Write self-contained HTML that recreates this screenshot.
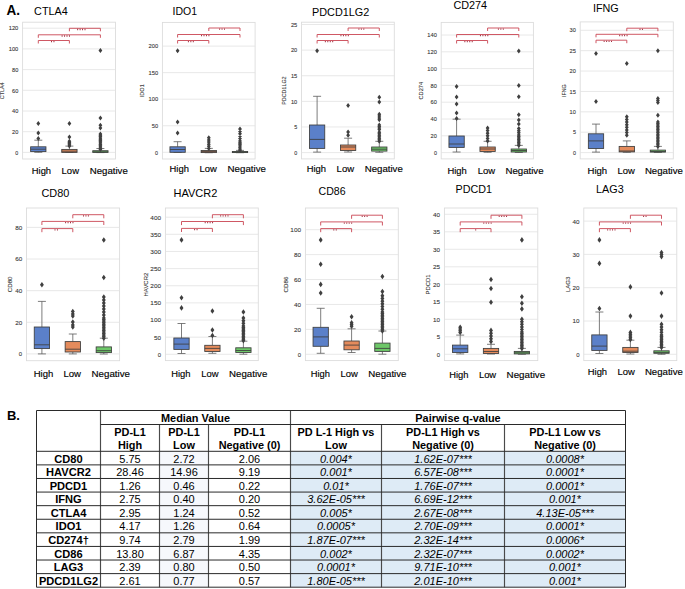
<!DOCTYPE html>
<html><head><meta charset="utf-8"><title>Figure</title>
<style>
html,body{margin:0;padding:0;background:#fff;}
body{width:685px;height:589px;overflow:hidden;}
svg{display:block;font-family:"Liberation Sans", sans-serif;}
</style></head><body>
<svg width="685" height="589" viewBox="0 0 685 589">
<rect width="685" height="589" fill="#fff"/>
<rect x="22.6" y="22.2" width="92.9" height="136.8" fill="#fff" stroke="#dcdcdc" stroke-width="0.9"/>
<line x1="22.6" y1="152.4" x2="115.5" y2="152.4" stroke="#e2e2e2" stroke-width="0.8"/>
<text x="18.3" y="154.6" font-size="5.3" text-anchor="end" fill="#333333" textLength="3" lengthAdjust="spacingAndGlyphs" stroke="#444" stroke-width="0.1">0</text>
<line x1="22.6" y1="131.7" x2="115.5" y2="131.7" stroke="#e2e2e2" stroke-width="0.8"/>
<text x="18.3" y="133.9" font-size="5.3" text-anchor="end" fill="#333333" textLength="6.3" lengthAdjust="spacingAndGlyphs" stroke="#444" stroke-width="0.1">20</text>
<line x1="22.6" y1="111" x2="115.5" y2="111" stroke="#e2e2e2" stroke-width="0.8"/>
<text x="18.3" y="113.2" font-size="5.3" text-anchor="end" fill="#333333" textLength="6.3" lengthAdjust="spacingAndGlyphs" stroke="#444" stroke-width="0.1">40</text>
<line x1="22.6" y1="90.3" x2="115.5" y2="90.3" stroke="#e2e2e2" stroke-width="0.8"/>
<text x="18.3" y="92.5" font-size="5.3" text-anchor="end" fill="#333333" textLength="6.3" lengthAdjust="spacingAndGlyphs" stroke="#444" stroke-width="0.1">60</text>
<line x1="22.6" y1="69.6" x2="115.5" y2="69.6" stroke="#e2e2e2" stroke-width="0.8"/>
<text x="18.3" y="71.8" font-size="5.3" text-anchor="end" fill="#333333" textLength="6.3" lengthAdjust="spacingAndGlyphs" stroke="#444" stroke-width="0.1">80</text>
<line x1="22.6" y1="48.9" x2="115.5" y2="48.9" stroke="#e2e2e2" stroke-width="0.8"/>
<text x="18.3" y="51.1" font-size="5.3" text-anchor="end" fill="#333333" textLength="9.61" lengthAdjust="spacingAndGlyphs" stroke="#444" stroke-width="0.1">100</text>
<line x1="22.6" y1="28.2" x2="115.5" y2="28.2" stroke="#e2e2e2" stroke-width="0.8"/>
<text x="18.3" y="30.4" font-size="5.3" text-anchor="end" fill="#333333" textLength="9.61" lengthAdjust="spacingAndGlyphs" stroke="#444" stroke-width="0.1">120</text>
<text x="0" y="0" font-size="5.3" fill="#333333" text-anchor="middle" stroke="#444" stroke-width="0.1" transform="translate(2.4 90.8) rotate(-90)" dy="1.9" textLength="16.69" lengthAdjust="spacingAndGlyphs">CTLA4</text>
<path d="M38.3 140.2V146.8 M38.3 151.6V152.3 M34.3 140.2H42.3 M34.3 152.3H42.3" stroke="#5c5c5c" stroke-width="0.8" fill="none"/>
<rect x="30.65" y="146.8" width="15.3" height="4.8" fill="#5b80c9" stroke="#3d3d3d" stroke-width="0.85"/>
<line x1="30.65" y1="149.2" x2="45.95" y2="149.2" stroke="#3d3d3d" stroke-width="0.85"/>
<path d="M38.3 135.9L40.2 138.4L38.3 140.9L36.4 138.4ZM38.3 130.6L40.2 133.1L38.3 135.6L36.4 133.1ZM38.3 120.9L40.2 123.4L38.3 125.9L36.4 123.4Z" fill="#404040"/>
<path d="M69.4 146.1V149.4 M69.4 152.4V152.5 M65.4 146.1H73.4 M65.4 152.5H73.4" stroke="#5c5c5c" stroke-width="0.8" fill="none"/>
<rect x="61.75" y="149.4" width="15.3" height="3" fill="#e48b5c" stroke="#3d3d3d" stroke-width="0.85"/>
<line x1="61.75" y1="151.2" x2="77.05" y2="151.2" stroke="#3d3d3d" stroke-width="0.85"/>
<path d="M69.4 120.9L71.3 123.4L69.4 125.9L67.5 123.4ZM69.4 134.6L71.3 137.1L69.4 139.6L67.5 137.1ZM69.4 138.8L71.3 141.3L69.4 143.8L67.5 141.3ZM69.4 139.95L71.3 142.45L69.4 144.95L67.5 142.45ZM69.4 141.1L71.3 143.6L69.4 146.1L67.5 143.6ZM69.4 142.25L71.3 144.75L69.4 147.25L67.5 144.75ZM69.4 143.4L71.3 145.9L69.4 148.4L67.5 145.9Z" fill="#404040"/>
<path d="M100.4 148.5V150.7 M100.4 152.4V152.6 M96.4 148.5H104.4 M96.4 152.6H104.4" stroke="#5c5c5c" stroke-width="0.8" fill="none"/>
<rect x="92.75" y="150.7" width="15.3" height="1.7" fill="#6dc768" stroke="#3d3d3d" stroke-width="0.85"/>
<line x1="92.75" y1="151.8" x2="108.05" y2="151.8" stroke="#3d3d3d" stroke-width="0.85"/>
<path d="M100.4 47.9L102.3 50.4L100.4 52.9L98.5 50.4ZM100.4 115.4L102.3 117.9L100.4 120.4L98.5 117.9ZM100.4 122.7L102.3 125.2L100.4 127.7L98.5 125.2ZM100.4 125.6L102.3 128.1L100.4 130.6L98.5 128.1ZM100.4 131.5L102.3 134L100.4 136.5L98.5 134ZM100.4 132.8L102.3 135.3L100.4 137.8L98.5 135.3ZM100.4 134.1L102.3 136.6L100.4 139.1L98.5 136.6ZM100.4 135.4L102.3 137.9L100.4 140.4L98.5 137.9ZM100.4 136.7L102.3 139.2L100.4 141.7L98.5 139.2ZM100.4 138L102.3 140.5L100.4 143L98.5 140.5ZM100.4 139.3L102.3 141.8L100.4 144.3L98.5 141.8ZM100.4 140.6L102.3 143.1L100.4 145.6L98.5 143.1ZM100.4 141.9L102.3 144.4L100.4 146.9L98.5 144.4ZM100.4 143.2L102.3 145.7L100.4 148.2L98.5 145.7ZM100.4 144.5L102.3 147L100.4 149.5L98.5 147ZM100.4 145.8L102.3 148.3L100.4 150.8L98.5 148.3ZM100.4 147.1L102.3 149.6L100.4 152.1L98.5 149.6Z" fill="#404040"/>
<path d="M69.4 31.3V28.3H100.4V31.3" stroke="#cc4f5c" stroke-width="0.95" fill="none"/>
<path d="M84.5 28.85h1v1.3h-1ZM82.05 28.85h1v1.3h-1ZM79.6 28.85h1v1.3h-1ZM77.15 28.85h1v1.3h-1Z" fill="#a33444"/>
<path d="M38.3 37.8V34.8H100.4V37.8" stroke="#cc4f5c" stroke-width="0.95" fill="none"/>
<path d="M68.95 35.35h1v1.3h-1ZM66.5 35.35h1v1.3h-1ZM64.05 35.35h1v1.3h-1ZM61.6 35.35h1v1.3h-1Z" fill="#a33444"/>
<path d="M38.3 43.5V40.5H69.4V43.5" stroke="#cc4f5c" stroke-width="0.95" fill="none"/>
<path d="M53.45 41.05h1v1.3h-1ZM51 41.05h1v1.3h-1Z" fill="#a33444"/>
<text x="34.1" y="14.8" font-size="11" textLength="33.6" lengthAdjust="spacingAndGlyphs">CTLA4</text>
<text x="31.8" y="174.1" font-size="9.8" textLength="19.3" lengthAdjust="spacingAndGlyphs" stroke="#000" stroke-width="0.15">High</text>
<text x="61.6" y="174.1" font-size="9.8" textLength="17.4" lengthAdjust="spacingAndGlyphs" stroke="#000" stroke-width="0.15">Low</text>
<text x="89.7" y="174.1" font-size="9.8" textLength="38.1" lengthAdjust="spacingAndGlyphs" stroke="#000" stroke-width="0.15">Negative</text>
<rect x="162.4" y="22.4" width="92.7" height="136.6" fill="#fff" stroke="#dcdcdc" stroke-width="0.9"/>
<line x1="162.4" y1="152.3" x2="255.1" y2="152.3" stroke="#e2e2e2" stroke-width="0.8"/>
<text x="158.1" y="154.5" font-size="5.3" text-anchor="end" fill="#333333" textLength="3" lengthAdjust="spacingAndGlyphs" stroke="#444" stroke-width="0.1">0</text>
<line x1="162.4" y1="125.75" x2="255.1" y2="125.75" stroke="#e2e2e2" stroke-width="0.8"/>
<text x="158.1" y="127.95" font-size="5.3" text-anchor="end" fill="#333333" textLength="6.3" lengthAdjust="spacingAndGlyphs" stroke="#444" stroke-width="0.1">50</text>
<line x1="162.4" y1="99.2" x2="255.1" y2="99.2" stroke="#e2e2e2" stroke-width="0.8"/>
<text x="158.1" y="101.4" font-size="5.3" text-anchor="end" fill="#333333" textLength="9.61" lengthAdjust="spacingAndGlyphs" stroke="#444" stroke-width="0.1">100</text>
<line x1="162.4" y1="72.65" x2="255.1" y2="72.65" stroke="#e2e2e2" stroke-width="0.8"/>
<text x="158.1" y="74.85" font-size="5.3" text-anchor="end" fill="#333333" textLength="9.61" lengthAdjust="spacingAndGlyphs" stroke="#444" stroke-width="0.1">150</text>
<line x1="162.4" y1="46.1" x2="255.1" y2="46.1" stroke="#e2e2e2" stroke-width="0.8"/>
<text x="158.1" y="48.3" font-size="5.3" text-anchor="end" fill="#333333" textLength="9.61" lengthAdjust="spacingAndGlyphs" stroke="#444" stroke-width="0.1">200</text>
<text x="0" y="0" font-size="5.3" fill="#333333" text-anchor="middle" stroke="#444" stroke-width="0.1" transform="translate(142.3 90.7) rotate(-90)" dy="1.9" textLength="12.94" lengthAdjust="spacingAndGlyphs">IDO1</text>
<path d="M177.6 141.7V146.8 M177.6 152.3V152.4 M173.6 141.7H181.6 M173.6 152.4H181.6" stroke="#5c5c5c" stroke-width="0.8" fill="none"/>
<rect x="169.95" y="146.8" width="15.3" height="5.5" fill="#5b80c9" stroke="#3d3d3d" stroke-width="0.85"/>
<line x1="169.95" y1="149.5" x2="185.25" y2="149.5" stroke="#3d3d3d" stroke-width="0.85"/>
<path d="M177.6 130.6L179.5 133.1L177.6 135.6L175.7 133.1ZM177.6 119.4L179.5 121.9L177.6 124.4L175.7 121.9ZM177.6 48.3L179.5 50.8L177.6 53.3L175.7 50.8Z" fill="#404040"/>
<path d="M208.8 148.4V150.5 M208.8 152.6V152.7 M204.8 148.4H212.8 M204.8 152.7H212.8" stroke="#5c5c5c" stroke-width="0.8" fill="none"/>
<rect x="201.15" y="150.5" width="15.3" height="2.1" fill="#e48b5c" stroke="#3d3d3d" stroke-width="0.85"/>
<line x1="201.15" y1="151.6" x2="216.45" y2="151.6" stroke="#3d3d3d" stroke-width="0.85"/>
<path d="M208.8 135.3L210.7 137.8L208.8 140.3L206.9 137.8ZM208.8 137.42L210.7 139.92L208.8 142.42L206.9 139.92ZM208.8 139.54L210.7 142.04L208.8 144.54L206.9 142.04ZM208.8 141.66L210.7 144.16L208.8 146.66L206.9 144.16ZM208.8 143.78L210.7 146.28L208.8 148.78L206.9 146.28ZM208.8 145.9L210.7 148.4L208.8 150.9L206.9 148.4Z" fill="#404040"/>
<path d="M240 150.4V151.5 M240 152.6V152.7 M236 150.4H244 M236 152.7H244" stroke="#5c5c5c" stroke-width="0.8" fill="none"/>
<rect x="232.35" y="151.5" width="15.3" height="1.1" fill="#6dc768" stroke="#3d3d3d" stroke-width="0.85"/>
<line x1="232.35" y1="152.1" x2="247.65" y2="152.1" stroke="#3d3d3d" stroke-width="0.85"/>
<path d="M240 126.5L241.9 129L240 131.5L238.1 129ZM240 128.9L241.9 131.4L240 133.9L238.1 131.4ZM240 131.3L241.9 133.8L240 136.3L238.1 133.8ZM240 133.7L241.9 136.2L240 138.7L238.1 136.2ZM240 136.1L241.9 138.6L240 141.1L238.1 138.6ZM240 138.5L241.9 141L240 143.5L238.1 141ZM240 138.5L241.9 141L240 143.5L238.1 141ZM240 139.68L241.9 142.18L240 144.68L238.1 142.18ZM240 140.85L241.9 143.35L240 145.85L238.1 143.35ZM240 142.03L241.9 144.53L240 147.03L238.1 144.53ZM240 143.2L241.9 145.7L240 148.2L238.1 145.7ZM240 144.38L241.9 146.88L240 149.38L238.1 146.88ZM240 145.55L241.9 148.05L240 150.55L238.1 148.05ZM240 146.72L241.9 149.22L240 151.72L238.1 149.22ZM240 147.9L241.9 150.4L240 152.9L238.1 150.4Z" fill="#404040"/>
<path d="M208.8 31V28H240V31" stroke="#cc4f5c" stroke-width="0.95" fill="none"/>
<path d="M224 28.55h1v1.3h-1ZM221.55 28.55h1v1.3h-1ZM219.1 28.55h1v1.3h-1Z" fill="#a33444"/>
<path d="M177.6 37.5V34.5H240V37.5" stroke="#cc4f5c" stroke-width="0.95" fill="none"/>
<path d="M208.4 35.05h1v1.3h-1ZM205.95 35.05h1v1.3h-1ZM203.5 35.05h1v1.3h-1ZM201.05 35.05h1v1.3h-1Z" fill="#a33444"/>
<path d="M177.6 43.5V40.5H208.8V43.5" stroke="#cc4f5c" stroke-width="0.95" fill="none"/>
<path d="M192.8 41.05h1v1.3h-1ZM190.35 41.05h1v1.3h-1ZM187.9 41.05h1v1.3h-1Z" fill="#a33444"/>
<text x="172.6" y="14.9" font-size="11" textLength="24.5" lengthAdjust="spacingAndGlyphs">IDO1</text>
<text x="169.6" y="172.2" font-size="9.8" textLength="19.3" lengthAdjust="spacingAndGlyphs" stroke="#000" stroke-width="0.15">High</text>
<text x="199.6" y="172.2" font-size="9.8" textLength="17.3" lengthAdjust="spacingAndGlyphs" stroke="#000" stroke-width="0.15">Low</text>
<text x="227.6" y="172.2" font-size="9.8" textLength="38.4" lengthAdjust="spacingAndGlyphs" stroke="#000" stroke-width="0.15">Negative</text>
<rect x="301.5" y="22.2" width="92.8" height="136.7" fill="#fff" stroke="#dcdcdc" stroke-width="0.9"/>
<line x1="301.5" y1="152.6" x2="394.3" y2="152.6" stroke="#e2e2e2" stroke-width="0.8"/>
<text x="297.2" y="154.8" font-size="5.3" text-anchor="end" fill="#333333" textLength="3" lengthAdjust="spacingAndGlyphs" stroke="#444" stroke-width="0.1">0</text>
<line x1="301.5" y1="126.98" x2="394.3" y2="126.98" stroke="#e2e2e2" stroke-width="0.8"/>
<text x="297.2" y="129.18" font-size="5.3" text-anchor="end" fill="#333333" textLength="3" lengthAdjust="spacingAndGlyphs" stroke="#444" stroke-width="0.1">5</text>
<line x1="301.5" y1="101.36" x2="394.3" y2="101.36" stroke="#e2e2e2" stroke-width="0.8"/>
<text x="297.2" y="103.56" font-size="5.3" text-anchor="end" fill="#333333" textLength="6.3" lengthAdjust="spacingAndGlyphs" stroke="#444" stroke-width="0.1">10</text>
<line x1="301.5" y1="75.74" x2="394.3" y2="75.74" stroke="#e2e2e2" stroke-width="0.8"/>
<text x="297.2" y="77.94" font-size="5.3" text-anchor="end" fill="#333333" textLength="6.3" lengthAdjust="spacingAndGlyphs" stroke="#444" stroke-width="0.1">15</text>
<line x1="301.5" y1="50.12" x2="394.3" y2="50.12" stroke="#e2e2e2" stroke-width="0.8"/>
<text x="297.2" y="52.32" font-size="5.3" text-anchor="end" fill="#333333" textLength="6.3" lengthAdjust="spacingAndGlyphs" stroke="#444" stroke-width="0.1">20</text>
<line x1="301.5" y1="24.5" x2="394.3" y2="24.5" stroke="#e2e2e2" stroke-width="0.8"/>
<text x="297.2" y="26.7" font-size="5.3" text-anchor="end" fill="#333333" textLength="6.3" lengthAdjust="spacingAndGlyphs" stroke="#444" stroke-width="0.1">25</text>
<text x="0" y="0" font-size="5.3" fill="#333333" text-anchor="middle" stroke="#444" stroke-width="0.1" transform="translate(284.3 90.6) rotate(-90)" dy="1.9" textLength="28.32" lengthAdjust="spacingAndGlyphs">PDCD1LG2</text>
<path d="M317.1 96.3V125 M317.1 148.4V152.1 M313.1 96.3H321.1 M313.1 152.1H321.1" stroke="#5c5c5c" stroke-width="0.8" fill="none"/>
<rect x="309.45" y="125" width="15.3" height="23.4" fill="#5b80c9" stroke="#3d3d3d" stroke-width="0.85"/>
<line x1="309.45" y1="139.4" x2="324.75" y2="139.4" stroke="#3d3d3d" stroke-width="0.85"/>
<path d="M317.1 48.3L319 50.8L317.1 53.3L315.2 50.8Z" fill="#404040"/>
<path d="M348.1 138.2V145 M348.1 150.5V152 M344.1 138.2H352.1 M344.1 152H352.1" stroke="#5c5c5c" stroke-width="0.8" fill="none"/>
<rect x="340.45" y="145" width="15.3" height="5.5" fill="#e48b5c" stroke="#3d3d3d" stroke-width="0.85"/>
<line x1="340.45" y1="147" x2="355.75" y2="147" stroke="#3d3d3d" stroke-width="0.85"/>
<path d="M348.1 103L350 105.5L348.1 108L346.2 105.5ZM348.1 129.6L350 132.1L348.1 134.6L346.2 132.1ZM348.1 132.7L350 135.2L348.1 137.7L346.2 135.2Z" fill="#404040"/>
<path d="M379.3 141.3V147 M379.3 151.1V152.3 M375.3 141.3H383.3 M375.3 152.3H383.3" stroke="#5c5c5c" stroke-width="0.8" fill="none"/>
<rect x="371.65" y="147" width="15.3" height="4.1" fill="#6dc768" stroke="#3d3d3d" stroke-width="0.85"/>
<line x1="371.65" y1="149.2" x2="386.95" y2="149.2" stroke="#3d3d3d" stroke-width="0.85"/>
<path d="M379.3 94.8L381.2 97.3L379.3 99.8L377.4 97.3ZM379.3 99.5L381.2 102L379.3 104.5L377.4 102ZM379.3 111.8L381.2 114.3L379.3 116.8L377.4 114.3ZM379.3 113.6L381.2 116.1L379.3 118.6L377.4 116.1ZM379.3 115.4L381.2 117.9L379.3 120.4L377.4 117.9ZM379.3 117.2L381.2 119.7L379.3 122.2L377.4 119.7ZM379.3 122.5L381.2 125L379.3 127.5L377.4 125ZM379.3 123.97L381.2 126.47L379.3 128.97L377.4 126.47ZM379.3 125.43L381.2 127.93L379.3 130.43L377.4 127.93ZM379.3 126.9L381.2 129.4L379.3 131.9L377.4 129.4ZM379.3 129.8L381.2 132.3L379.3 134.8L377.4 132.3ZM379.3 131.28L381.2 133.78L379.3 136.28L377.4 133.78ZM379.3 132.77L381.2 135.27L379.3 137.77L377.4 135.27ZM379.3 134.25L381.2 136.75L379.3 139.25L377.4 136.75ZM379.3 135.73L381.2 138.23L379.3 140.73L377.4 138.23ZM379.3 137.22L381.2 139.72L379.3 142.22L377.4 139.72ZM379.3 138.7L381.2 141.2L379.3 143.7L377.4 141.2Z" fill="#404040"/>
<path d="M348.1 31V28H379.3V31" stroke="#cc4f5c" stroke-width="0.95" fill="none"/>
<path d="M363.3 28.55h1v1.3h-1ZM360.85 28.55h1v1.3h-1ZM358.4 28.55h1v1.3h-1Z" fill="#a33444"/>
<path d="M317.1 37.5V34.5H379.3V37.5" stroke="#cc4f5c" stroke-width="0.95" fill="none"/>
<path d="M347.8 35.05h1v1.3h-1ZM345.35 35.05h1v1.3h-1ZM342.9 35.05h1v1.3h-1ZM340.45 35.05h1v1.3h-1Z" fill="#a33444"/>
<path d="M317.1 43.5V40.5H348.1V43.5" stroke="#cc4f5c" stroke-width="0.95" fill="none"/>
<path d="M332.2 41.05h1v1.3h-1ZM329.75 41.05h1v1.3h-1ZM327.3 41.05h1v1.3h-1ZM324.85 41.05h1v1.3h-1Z" fill="#a33444"/>
<text x="312" y="15.8" font-size="11" textLength="57.3" lengthAdjust="spacingAndGlyphs">PDCD1LG2</text>
<text x="306.7" y="171.7" font-size="9.8" textLength="19.3" lengthAdjust="spacingAndGlyphs" stroke="#000" stroke-width="0.15">High</text>
<text x="336.6" y="171.7" font-size="9.8" textLength="17.5" lengthAdjust="spacingAndGlyphs" stroke="#000" stroke-width="0.15">Low</text>
<text x="364.7" y="171.7" font-size="9.8" textLength="38.1" lengthAdjust="spacingAndGlyphs" stroke="#000" stroke-width="0.15">Negative</text>
<rect x="441.2" y="22.4" width="92.2" height="136.5" fill="#fff" stroke="#dcdcdc" stroke-width="0.9"/>
<line x1="441.2" y1="152.6" x2="533.4" y2="152.6" stroke="#e2e2e2" stroke-width="0.8"/>
<text x="436.9" y="154.8" font-size="5.3" text-anchor="end" fill="#333333" textLength="3" lengthAdjust="spacingAndGlyphs" stroke="#444" stroke-width="0.1">0</text>
<line x1="441.2" y1="135.8" x2="533.4" y2="135.8" stroke="#e2e2e2" stroke-width="0.8"/>
<text x="436.9" y="138" font-size="5.3" text-anchor="end" fill="#333333" textLength="6.3" lengthAdjust="spacingAndGlyphs" stroke="#444" stroke-width="0.1">20</text>
<line x1="441.2" y1="119" x2="533.4" y2="119" stroke="#e2e2e2" stroke-width="0.8"/>
<text x="436.9" y="121.2" font-size="5.3" text-anchor="end" fill="#333333" textLength="6.3" lengthAdjust="spacingAndGlyphs" stroke="#444" stroke-width="0.1">40</text>
<line x1="441.2" y1="102.2" x2="533.4" y2="102.2" stroke="#e2e2e2" stroke-width="0.8"/>
<text x="436.9" y="104.4" font-size="5.3" text-anchor="end" fill="#333333" textLength="6.3" lengthAdjust="spacingAndGlyphs" stroke="#444" stroke-width="0.1">60</text>
<line x1="441.2" y1="85.4" x2="533.4" y2="85.4" stroke="#e2e2e2" stroke-width="0.8"/>
<text x="436.9" y="87.6" font-size="5.3" text-anchor="end" fill="#333333" textLength="6.3" lengthAdjust="spacingAndGlyphs" stroke="#444" stroke-width="0.1">80</text>
<line x1="441.2" y1="68.6" x2="533.4" y2="68.6" stroke="#e2e2e2" stroke-width="0.8"/>
<text x="436.9" y="70.8" font-size="5.3" text-anchor="end" fill="#333333" textLength="9.61" lengthAdjust="spacingAndGlyphs" stroke="#444" stroke-width="0.1">100</text>
<line x1="441.2" y1="51.8" x2="533.4" y2="51.8" stroke="#e2e2e2" stroke-width="0.8"/>
<text x="436.9" y="54" font-size="5.3" text-anchor="end" fill="#333333" textLength="9.61" lengthAdjust="spacingAndGlyphs" stroke="#444" stroke-width="0.1">120</text>
<line x1="441.2" y1="35" x2="533.4" y2="35" stroke="#e2e2e2" stroke-width="0.8"/>
<text x="436.9" y="37.2" font-size="5.3" text-anchor="end" fill="#333333" textLength="9.61" lengthAdjust="spacingAndGlyphs" stroke="#444" stroke-width="0.1">140</text>
<text x="0" y="0" font-size="5.3" fill="#333333" text-anchor="middle" stroke="#444" stroke-width="0.1" transform="translate(420.9 90.7) rotate(-90)" dy="1.9" textLength="17.56" lengthAdjust="spacingAndGlyphs">CD274</text>
<path d="M456.6 119.2V136 M456.6 147.4V152 M452.6 119.2H460.6 M452.6 152H460.6" stroke="#5c5c5c" stroke-width="0.8" fill="none"/>
<rect x="448.95" y="136" width="15.3" height="11.4" fill="#5b80c9" stroke="#3d3d3d" stroke-width="0.85"/>
<line x1="448.95" y1="144" x2="464.25" y2="144" stroke="#3d3d3d" stroke-width="0.85"/>
<path d="M456.6 84L458.5 86.5L456.6 89L454.7 86.5ZM456.6 94.5L458.5 97L456.6 99.5L454.7 97ZM456.6 101.6L458.5 104.1L456.6 106.6L454.7 104.1ZM456.6 110.6L458.5 113.1L456.6 115.6L454.7 113.1ZM456.6 115.9L458.5 118.4L456.6 120.9L454.7 118.4Z" fill="#404040"/>
<path d="M487.6 141.3V147 M487.6 151.5V152.3 M483.6 141.3H491.6 M483.6 152.3H491.6" stroke="#5c5c5c" stroke-width="0.8" fill="none"/>
<rect x="479.95" y="147" width="15.3" height="4.5" fill="#e48b5c" stroke="#3d3d3d" stroke-width="0.85"/>
<line x1="479.95" y1="149" x2="495.25" y2="149" stroke="#3d3d3d" stroke-width="0.85"/>
<path d="M487.6 125.5L489.5 128L487.6 130.5L485.7 128ZM487.6 128.1L489.5 130.6L487.6 133.1L485.7 130.6ZM487.6 130.7L489.5 133.2L487.6 135.7L485.7 133.2ZM487.6 133.3L489.5 135.8L487.6 138.3L485.7 135.8ZM487.6 135.9L489.5 138.4L487.6 140.9L485.7 138.4ZM487.6 138.5L489.5 141L487.6 143.5L485.7 141Z" fill="#404040"/>
<path d="M518.8 145.4V149 M518.8 152V152.5 M514.8 145.4H522.8 M514.8 152.5H522.8" stroke="#5c5c5c" stroke-width="0.8" fill="none"/>
<rect x="511.15" y="149" width="15.3" height="3" fill="#6dc768" stroke="#3d3d3d" stroke-width="0.85"/>
<line x1="511.15" y1="150.5" x2="526.45" y2="150.5" stroke="#3d3d3d" stroke-width="0.85"/>
<path d="M518.8 48.5L520.7 51L518.8 53.5L516.9 51ZM518.8 83L520.7 85.5L518.8 88L516.9 85.5ZM518.8 94.3L520.7 96.8L518.8 99.3L516.9 96.8ZM518.8 112.2L520.7 114.7L518.8 117.2L516.9 114.7ZM518.8 117.4L520.7 119.9L518.8 122.4L516.9 119.9ZM518.8 121.5L520.7 124L518.8 126.5L516.9 124ZM518.8 126L520.7 128.5L518.8 131L516.9 128.5ZM518.8 128.17L520.7 130.67L518.8 133.17L516.9 130.67ZM518.8 130.33L520.7 132.83L518.8 135.33L516.9 132.83ZM518.8 132.5L520.7 135L518.8 137.5L516.9 135ZM518.8 132.5L520.7 135L518.8 137.5L516.9 135ZM518.8 133.99L520.7 136.49L518.8 138.99L516.9 136.49ZM518.8 135.47L520.7 137.97L518.8 140.47L516.9 137.97ZM518.8 136.96L520.7 139.46L518.8 141.96L516.9 139.46ZM518.8 138.44L520.7 140.94L518.8 143.44L516.9 140.94ZM518.8 139.93L520.7 142.43L518.8 144.93L516.9 142.43ZM518.8 141.41L520.7 143.91L518.8 146.41L516.9 143.91ZM518.8 142.9L520.7 145.4L518.8 147.9L516.9 145.4Z" fill="#404040"/>
<path d="M487.6 31V28H518.8V31" stroke="#cc4f5c" stroke-width="0.95" fill="none"/>
<path d="M502.8 28.55h1v1.3h-1ZM500.35 28.55h1v1.3h-1ZM497.9 28.55h1v1.3h-1Z" fill="#a33444"/>
<path d="M456.6 37.5V34.5H518.8V37.5" stroke="#cc4f5c" stroke-width="0.95" fill="none"/>
<path d="M487.3 35.05h1v1.3h-1ZM484.85 35.05h1v1.3h-1ZM482.4 35.05h1v1.3h-1ZM479.95 35.05h1v1.3h-1Z" fill="#a33444"/>
<path d="M456.6 43.5V40.5H487.6V43.5" stroke="#cc4f5c" stroke-width="0.95" fill="none"/>
<path d="M471.7 41.05h1v1.3h-1ZM469.25 41.05h1v1.3h-1ZM466.8 41.05h1v1.3h-1ZM464.35 41.05h1v1.3h-1Z" fill="#a33444"/>
<text x="453.4" y="8.8" font-size="11" textLength="33.7" lengthAdjust="spacingAndGlyphs">CD274</text>
<text x="447.5" y="174.1" font-size="9.8" textLength="19.3" lengthAdjust="spacingAndGlyphs" stroke="#000" stroke-width="0.15">High</text>
<text x="477.7" y="174.1" font-size="9.8" textLength="17.4" lengthAdjust="spacingAndGlyphs" stroke="#000" stroke-width="0.15">Low</text>
<text x="505.4" y="174.1" font-size="9.8" textLength="38.2" lengthAdjust="spacingAndGlyphs" stroke="#000" stroke-width="0.15">Negative</text>
<rect x="580.2" y="21.9" width="93.1" height="137" fill="#fff" stroke="#dcdcdc" stroke-width="0.9"/>
<line x1="580.2" y1="152.6" x2="673.3" y2="152.6" stroke="#e2e2e2" stroke-width="0.8"/>
<text x="575.9" y="154.8" font-size="5.3" text-anchor="end" fill="#333333" textLength="3" lengthAdjust="spacingAndGlyphs" stroke="#444" stroke-width="0.1">0</text>
<line x1="580.2" y1="132.22" x2="673.3" y2="132.22" stroke="#e2e2e2" stroke-width="0.8"/>
<text x="575.9" y="134.41" font-size="5.3" text-anchor="end" fill="#333333" textLength="3" lengthAdjust="spacingAndGlyphs" stroke="#444" stroke-width="0.1">5</text>
<line x1="580.2" y1="111.83" x2="673.3" y2="111.83" stroke="#e2e2e2" stroke-width="0.8"/>
<text x="575.9" y="114.03" font-size="5.3" text-anchor="end" fill="#333333" textLength="6.3" lengthAdjust="spacingAndGlyphs" stroke="#444" stroke-width="0.1">10</text>
<line x1="580.2" y1="91.44" x2="673.3" y2="91.44" stroke="#e2e2e2" stroke-width="0.8"/>
<text x="575.9" y="93.64" font-size="5.3" text-anchor="end" fill="#333333" textLength="6.3" lengthAdjust="spacingAndGlyphs" stroke="#444" stroke-width="0.1">15</text>
<line x1="580.2" y1="71.06" x2="673.3" y2="71.06" stroke="#e2e2e2" stroke-width="0.8"/>
<text x="575.9" y="73.26" font-size="5.3" text-anchor="end" fill="#333333" textLength="6.3" lengthAdjust="spacingAndGlyphs" stroke="#444" stroke-width="0.1">20</text>
<line x1="580.2" y1="50.67" x2="673.3" y2="50.67" stroke="#e2e2e2" stroke-width="0.8"/>
<text x="575.9" y="52.87" font-size="5.3" text-anchor="end" fill="#333333" textLength="6.3" lengthAdjust="spacingAndGlyphs" stroke="#444" stroke-width="0.1">25</text>
<line x1="580.2" y1="30.29" x2="673.3" y2="30.29" stroke="#e2e2e2" stroke-width="0.8"/>
<text x="575.9" y="32.49" font-size="5.3" text-anchor="end" fill="#333333" textLength="6.3" lengthAdjust="spacingAndGlyphs" stroke="#444" stroke-width="0.1">30</text>
<text x="0" y="0" font-size="5.3" fill="#333333" text-anchor="middle" stroke="#444" stroke-width="0.1" transform="translate(563.6 90.7) rotate(-90)" dy="1.9" textLength="12.44" lengthAdjust="spacingAndGlyphs">IFNG</text>
<path d="M596 124.1V133.8 M596 148.5V152.1 M592 124.1H600 M592 152.1H600" stroke="#5c5c5c" stroke-width="0.8" fill="none"/>
<rect x="588.35" y="133.8" width="15.3" height="14.7" fill="#5b80c9" stroke="#3d3d3d" stroke-width="0.85"/>
<line x1="588.35" y1="140.9" x2="603.65" y2="140.9" stroke="#3d3d3d" stroke-width="0.85"/>
<path d="M596 99L597.9 101.5L596 104L594.1 101.5ZM596 51.1L597.9 53.6L596 56.1L594.1 53.6Z" fill="#404040"/>
<path d="M626.8 140.9V146.4 M626.8 151.9V152.3 M622.8 140.9H630.8 M622.8 152.3H630.8" stroke="#5c5c5c" stroke-width="0.8" fill="none"/>
<rect x="619.15" y="146.4" width="15.3" height="5.5" fill="#e48b5c" stroke="#3d3d3d" stroke-width="0.85"/>
<line x1="619.15" y1="151" x2="634.45" y2="151" stroke="#3d3d3d" stroke-width="0.85"/>
<path d="M626.8 61L628.7 63.5L626.8 66L624.9 63.5ZM626.8 114.3L628.7 116.8L626.8 119.3L624.9 116.8ZM626.8 116.93L628.7 119.43L626.8 121.93L624.9 119.43ZM626.8 119.56L628.7 122.06L626.8 124.56L624.9 122.06ZM626.8 122.19L628.7 124.69L626.8 127.19L624.9 124.69ZM626.8 124.81L628.7 127.31L626.8 129.81L624.9 127.31ZM626.8 127.44L628.7 129.94L626.8 132.44L624.9 129.94ZM626.8 130.07L628.7 132.57L626.8 135.07L624.9 132.57ZM626.8 132.7L628.7 135.2L626.8 137.7L624.9 135.2Z" fill="#404040"/>
<path d="M657.9 146.4V150.1 M657.9 152.1V152.5 M653.9 146.4H661.9 M653.9 152.5H661.9" stroke="#5c5c5c" stroke-width="0.8" fill="none"/>
<rect x="650.25" y="150.1" width="15.3" height="2" fill="#6dc768" stroke="#3d3d3d" stroke-width="0.85"/>
<line x1="650.25" y1="151.5" x2="665.55" y2="151.5" stroke="#3d3d3d" stroke-width="0.85"/>
<path d="M657.9 48.3L659.8 50.8L657.9 53.3L656 50.8ZM657.9 112.7L659.8 115.2L657.9 117.7L656 115.2ZM657.9 95.9L659.8 98.4L657.9 100.9L656 98.4ZM657.9 97.95L659.8 100.45L657.9 102.95L656 100.45ZM657.9 100L659.8 102.5L657.9 105L656 102.5ZM657.9 119.4L659.8 121.9L657.9 124.4L656 121.9ZM657.9 120.93L659.8 123.43L657.9 125.93L656 123.43ZM657.9 122.46L659.8 124.96L657.9 127.46L656 124.96ZM657.9 123.99L659.8 126.49L657.9 128.99L656 126.49ZM657.9 125.53L659.8 128.03L657.9 130.53L656 128.03ZM657.9 127.06L659.8 129.56L657.9 132.06L656 129.56ZM657.9 128.59L659.8 131.09L657.9 133.59L656 131.09ZM657.9 130.12L659.8 132.62L657.9 135.12L656 132.62ZM657.9 131.65L659.8 134.15L657.9 136.65L656 134.15ZM657.9 133.18L659.8 135.68L657.9 138.18L656 135.68ZM657.9 134.71L659.8 137.21L657.9 139.71L656 137.21ZM657.9 136.24L659.8 138.74L657.9 141.24L656 138.74ZM657.9 137.78L659.8 140.28L657.9 142.78L656 140.28ZM657.9 139.31L659.8 141.81L657.9 144.31L656 141.81ZM657.9 140.84L659.8 143.34L657.9 145.84L656 143.34ZM657.9 142.37L659.8 144.87L657.9 147.37L656 144.87ZM657.9 143.9L659.8 146.4L657.9 148.9L656 146.4Z" fill="#404040"/>
<path d="M626.8 31.2V28.2H657.9V31.2" stroke="#cc4f5c" stroke-width="0.95" fill="none"/>
<path d="M641.95 28.75h1v1.3h-1ZM639.5 28.75h1v1.3h-1Z" fill="#a33444"/>
<path d="M596 37.3V34.3H657.9V37.3" stroke="#cc4f5c" stroke-width="0.95" fill="none"/>
<path d="M626.55 34.85h1v1.3h-1ZM624.1 34.85h1v1.3h-1ZM621.65 34.85h1v1.3h-1ZM619.2 34.85h1v1.3h-1Z" fill="#a33444"/>
<path d="M596 43.2V40.2H626.8V43.2" stroke="#cc4f5c" stroke-width="0.95" fill="none"/>
<path d="M611 40.75h1v1.3h-1ZM608.55 40.75h1v1.3h-1ZM606.1 40.75h1v1.3h-1ZM603.65 40.75h1v1.3h-1Z" fill="#a33444"/>
<text x="592.9" y="12.3" font-size="11" textLength="25.8" lengthAdjust="spacingAndGlyphs">IFNG</text>
<text x="587.5" y="174.1" font-size="9.8" textLength="19.6" lengthAdjust="spacingAndGlyphs" stroke="#000" stroke-width="0.15">High</text>
<text x="617.6" y="174.1" font-size="9.8" textLength="17.3" lengthAdjust="spacingAndGlyphs" stroke="#000" stroke-width="0.15">Low</text>
<text x="644.9" y="174.1" font-size="9.8" textLength="38" lengthAdjust="spacingAndGlyphs" stroke="#000" stroke-width="0.15">Negative</text>
<rect x="26.5" y="208" width="93.1" height="152.7" fill="#fff" stroke="#dcdcdc" stroke-width="0.9"/>
<line x1="26.5" y1="353.9" x2="119.6" y2="353.9" stroke="#e2e2e2" stroke-width="0.8"/>
<text x="22.2" y="356.31" font-size="5.92" text-anchor="end" fill="#333333" textLength="3.34" lengthAdjust="spacingAndGlyphs" stroke="#444" stroke-width="0.1">0</text>
<line x1="26.5" y1="322.28" x2="119.6" y2="322.28" stroke="#e2e2e2" stroke-width="0.8"/>
<text x="22.2" y="324.69" font-size="5.92" text-anchor="end" fill="#333333" textLength="7.03" lengthAdjust="spacingAndGlyphs" stroke="#444" stroke-width="0.1">20</text>
<line x1="26.5" y1="290.66" x2="119.6" y2="290.66" stroke="#e2e2e2" stroke-width="0.8"/>
<text x="22.2" y="293.07" font-size="5.92" text-anchor="end" fill="#333333" textLength="7.03" lengthAdjust="spacingAndGlyphs" stroke="#444" stroke-width="0.1">40</text>
<line x1="26.5" y1="259.04" x2="119.6" y2="259.04" stroke="#e2e2e2" stroke-width="0.8"/>
<text x="22.2" y="261.45" font-size="5.92" text-anchor="end" fill="#333333" textLength="7.03" lengthAdjust="spacingAndGlyphs" stroke="#444" stroke-width="0.1">60</text>
<line x1="26.5" y1="227.42" x2="119.6" y2="227.42" stroke="#e2e2e2" stroke-width="0.8"/>
<text x="22.2" y="229.83" font-size="5.92" text-anchor="end" fill="#333333" textLength="7.03" lengthAdjust="spacingAndGlyphs" stroke="#444" stroke-width="0.1">80</text>
<text x="0" y="0" font-size="5.92" fill="#333333" text-anchor="middle" stroke="#444" stroke-width="0.1" transform="translate(9.6 284.4) rotate(-90)" dy="2.11" textLength="15.9" lengthAdjust="spacingAndGlyphs">CD80</text>
<path d="M41.9 301.4V327 M41.9 348.6V353.9 M37.9 301.4H45.9 M37.9 353.9H45.9" stroke="#5c5c5c" stroke-width="0.8" fill="none"/>
<rect x="34.25" y="327" width="15.3" height="21.6" fill="#5b80c9" stroke="#3d3d3d" stroke-width="0.85"/>
<line x1="34.25" y1="344.8" x2="49.55" y2="344.8" stroke="#3d3d3d" stroke-width="0.85"/>
<path d="M41.9 281.9L43.85 284.7L41.9 287.5L39.95 284.7Z" fill="#404040"/>
<path d="M72.8 334V341.6 M72.8 352V353.9 M68.8 334H76.8 M68.8 353.9H76.8" stroke="#5c5c5c" stroke-width="0.8" fill="none"/>
<rect x="65.15" y="341.6" width="15.3" height="10.4" fill="#e48b5c" stroke="#3d3d3d" stroke-width="0.85"/>
<line x1="65.15" y1="349.2" x2="80.45" y2="349.2" stroke="#3d3d3d" stroke-width="0.85"/>
<path d="M72.8 308.7L74.75 311.5L72.8 314.3L70.85 311.5ZM72.8 311.2L74.75 314L72.8 316.8L70.85 314ZM72.8 313.2L74.75 316L72.8 318.8L70.85 316ZM72.8 319.2L74.75 322L72.8 324.8L70.85 322ZM72.8 322.2L74.75 325L72.8 327.8L70.85 325ZM72.8 324.2L74.75 327L72.8 329.8L70.85 327Z" fill="#404040"/>
<path d="M103.8 338.2V346.9 M103.8 352.6V354 M99.8 338.2H107.8 M99.8 354H107.8" stroke="#5c5c5c" stroke-width="0.8" fill="none"/>
<rect x="96.15" y="346.9" width="15.3" height="5.7" fill="#6dc768" stroke="#3d3d3d" stroke-width="0.85"/>
<line x1="96.15" y1="350.7" x2="111.45" y2="350.7" stroke="#3d3d3d" stroke-width="0.85"/>
<path d="M103.8 237.2L105.75 240L103.8 242.8L101.85 240ZM103.8 274.7L105.75 277.5L103.8 280.3L101.85 277.5ZM103.8 294.2L105.75 297L103.8 299.8L101.85 297ZM103.8 297.2L105.75 300L103.8 302.8L101.85 300ZM103.8 300.2L105.75 303L103.8 305.8L101.85 303ZM103.8 303.2L105.75 306L103.8 308.8L101.85 306ZM103.8 306.2L105.75 309L103.8 311.8L101.85 309ZM103.8 309.2L105.75 312L103.8 314.8L101.85 312ZM103.8 312.2L105.75 315L103.8 317.8L101.85 315ZM103.8 315.2L105.75 318L103.8 320.8L101.85 318ZM103.8 315.2L105.75 318L103.8 320.8L101.85 318ZM103.8 316.75L105.75 319.55L103.8 322.35L101.85 319.55ZM103.8 318.31L105.75 321.11L103.8 323.91L101.85 321.11ZM103.8 319.86L105.75 322.66L103.8 325.46L101.85 322.66ZM103.8 321.42L105.75 324.22L103.8 327.02L101.85 324.22ZM103.8 322.97L105.75 325.77L103.8 328.57L101.85 325.77ZM103.8 324.52L105.75 327.32L103.8 330.12L101.85 327.32ZM103.8 326.08L105.75 328.88L103.8 331.68L101.85 328.88ZM103.8 327.63L105.75 330.43L103.8 333.23L101.85 330.43ZM103.8 329.18L105.75 331.98L103.8 334.78L101.85 331.98ZM103.8 330.74L105.75 333.54L103.8 336.34L101.85 333.54ZM103.8 332.29L105.75 335.09L103.8 337.89L101.85 335.09ZM103.8 333.85L105.75 336.65L103.8 339.45L101.85 336.65ZM103.8 335.4L105.75 338.2L103.8 341L101.85 338.2Z" fill="#404040"/>
<path d="M72.8 218.3V214.7H103.8V218.3" stroke="#cc4f5c" stroke-width="0.95" fill="none"/>
<path d="M87.9 215.25h1v1.3h-1ZM85.45 215.25h1v1.3h-1ZM83 215.25h1v1.3h-1Z" fill="#a33444"/>
<path d="M41.9 225V221.4H103.8V225" stroke="#cc4f5c" stroke-width="0.95" fill="none"/>
<path d="M72.45 221.95h1v1.3h-1ZM70 221.95h1v1.3h-1ZM67.55 221.95h1v1.3h-1ZM65.1 221.95h1v1.3h-1Z" fill="#a33444"/>
<path d="M41.9 232.2V228.6H72.8V232.2" stroke="#cc4f5c" stroke-width="0.95" fill="none"/>
<path d="M56.95 229.15h1v1.3h-1ZM54.5 229.15h1v1.3h-1Z" fill="#a33444"/>
<text x="41.4" y="196.7" font-size="11" textLength="27.9" lengthAdjust="spacingAndGlyphs">CD80</text>
<text x="33.7" y="377.2" font-size="9.8" textLength="19.6" lengthAdjust="spacingAndGlyphs" stroke="#000" stroke-width="0.15">High</text>
<text x="63.4" y="377.2" font-size="9.8" textLength="17.6" lengthAdjust="spacingAndGlyphs" stroke="#000" stroke-width="0.15">Low</text>
<text x="91.5" y="377.2" font-size="9.8" textLength="38.5" lengthAdjust="spacingAndGlyphs" stroke="#000" stroke-width="0.15">Negative</text>
<rect x="165.4" y="208" width="92.9" height="152.6" fill="#fff" stroke="#dcdcdc" stroke-width="0.9"/>
<line x1="165.4" y1="354.3" x2="258.3" y2="354.3" stroke="#e2e2e2" stroke-width="0.8"/>
<text x="161.1" y="356.71" font-size="5.92" text-anchor="end" fill="#333333" textLength="3.34" lengthAdjust="spacingAndGlyphs" stroke="#444" stroke-width="0.1">0</text>
<line x1="165.4" y1="337.16" x2="258.3" y2="337.16" stroke="#e2e2e2" stroke-width="0.8"/>
<text x="161.1" y="339.57" font-size="5.92" text-anchor="end" fill="#333333" textLength="7.03" lengthAdjust="spacingAndGlyphs" stroke="#444" stroke-width="0.1">50</text>
<line x1="165.4" y1="320.02" x2="258.3" y2="320.02" stroke="#e2e2e2" stroke-width="0.8"/>
<text x="161.1" y="322.43" font-size="5.92" text-anchor="end" fill="#333333" textLength="10.72" lengthAdjust="spacingAndGlyphs" stroke="#444" stroke-width="0.1">100</text>
<line x1="165.4" y1="302.88" x2="258.3" y2="302.88" stroke="#e2e2e2" stroke-width="0.8"/>
<text x="161.1" y="305.29" font-size="5.92" text-anchor="end" fill="#333333" textLength="10.72" lengthAdjust="spacingAndGlyphs" stroke="#444" stroke-width="0.1">150</text>
<line x1="165.4" y1="285.74" x2="258.3" y2="285.74" stroke="#e2e2e2" stroke-width="0.8"/>
<text x="161.1" y="288.15" font-size="5.92" text-anchor="end" fill="#333333" textLength="10.72" lengthAdjust="spacingAndGlyphs" stroke="#444" stroke-width="0.1">200</text>
<line x1="165.4" y1="268.6" x2="258.3" y2="268.6" stroke="#e2e2e2" stroke-width="0.8"/>
<text x="161.1" y="271.01" font-size="5.92" text-anchor="end" fill="#333333" textLength="10.72" lengthAdjust="spacingAndGlyphs" stroke="#444" stroke-width="0.1">250</text>
<line x1="165.4" y1="251.46" x2="258.3" y2="251.46" stroke="#e2e2e2" stroke-width="0.8"/>
<text x="161.1" y="253.87" font-size="5.92" text-anchor="end" fill="#333333" textLength="10.72" lengthAdjust="spacingAndGlyphs" stroke="#444" stroke-width="0.1">300</text>
<line x1="165.4" y1="234.32" x2="258.3" y2="234.32" stroke="#e2e2e2" stroke-width="0.8"/>
<text x="161.1" y="236.73" font-size="5.92" text-anchor="end" fill="#333333" textLength="10.72" lengthAdjust="spacingAndGlyphs" stroke="#444" stroke-width="0.1">350</text>
<line x1="165.4" y1="217.18" x2="258.3" y2="217.18" stroke="#e2e2e2" stroke-width="0.8"/>
<text x="161.1" y="219.59" font-size="5.92" text-anchor="end" fill="#333333" textLength="10.72" lengthAdjust="spacingAndGlyphs" stroke="#444" stroke-width="0.1">400</text>
<text x="0" y="0" font-size="5.92" fill="#333333" text-anchor="middle" stroke="#444" stroke-width="0.1" transform="translate(145.8 284.6) rotate(-90)" dy="2.11" textLength="23.7" lengthAdjust="spacingAndGlyphs">HAVCR2</text>
<path d="M181.5 323.5V338 M181.5 349.4V353.5 M177.5 323.5H185.5 M177.5 353.5H185.5" stroke="#5c5c5c" stroke-width="0.8" fill="none"/>
<rect x="173.85" y="338" width="15.3" height="11.4" fill="#5b80c9" stroke="#3d3d3d" stroke-width="0.85"/>
<line x1="173.85" y1="344.1" x2="189.15" y2="344.1" stroke="#3d3d3d" stroke-width="0.85"/>
<path d="M181.5 237.1L183.45 239.9L181.5 242.7L179.55 239.9ZM181.5 294.9L183.45 297.7L181.5 300.5L179.55 297.7ZM181.5 305.1L183.45 307.9L181.5 310.7L179.55 307.9Z" fill="#404040"/>
<path d="M212.4 336.5V345.3 M212.4 351.5V353.3 M208.4 336.5H216.4 M208.4 353.3H216.4" stroke="#5c5c5c" stroke-width="0.8" fill="none"/>
<rect x="204.75" y="345.3" width="15.3" height="6.2" fill="#e48b5c" stroke="#3d3d3d" stroke-width="0.85"/>
<line x1="204.75" y1="348.4" x2="220.05" y2="348.4" stroke="#3d3d3d" stroke-width="0.85"/>
<path d="M212.4 308.2L214.35 311L212.4 313.8L210.45 311ZM212.4 327.2L214.35 330L212.4 332.8L210.45 330ZM212.4 332.7L214.35 335.5L212.4 338.3L210.45 335.5Z" fill="#404040"/>
<path d="M243.4 341.2V347.8 M243.4 352.5V354.2 M239.4 341.2H247.4 M239.4 354.2H247.4" stroke="#5c5c5c" stroke-width="0.8" fill="none"/>
<rect x="235.75" y="347.8" width="15.3" height="4.7" fill="#6dc768" stroke="#3d3d3d" stroke-width="0.85"/>
<line x1="235.75" y1="350.5" x2="251.05" y2="350.5" stroke="#3d3d3d" stroke-width="0.85"/>
<path d="M243.4 309.2L245.35 312L243.4 314.8L241.45 312ZM243.4 315.2L245.35 318L243.4 320.8L241.45 318ZM243.4 317.87L245.35 320.67L243.4 323.47L241.45 320.67ZM243.4 320.53L245.35 323.33L243.4 326.13L241.45 323.33ZM243.4 323.2L245.35 326L243.4 328.8L241.45 326ZM243.4 323.2L245.35 326L243.4 328.8L241.45 326ZM243.4 324.66L245.35 327.46L243.4 330.26L241.45 327.46ZM243.4 326.12L245.35 328.92L243.4 331.72L241.45 328.92ZM243.4 327.58L245.35 330.38L243.4 333.18L241.45 330.38ZM243.4 329.04L245.35 331.84L243.4 334.64L241.45 331.84ZM243.4 330.5L245.35 333.3L243.4 336.1L241.45 333.3ZM243.4 331.96L245.35 334.76L243.4 337.56L241.45 334.76ZM243.4 333.42L245.35 336.22L243.4 339.02L241.45 336.22ZM243.4 334.88L245.35 337.68L243.4 340.48L241.45 337.68ZM243.4 336.34L245.35 339.14L243.4 341.94L241.45 339.14ZM243.4 337.8L245.35 340.6L243.4 343.4L241.45 340.6Z" fill="#404040"/>
<path d="M212.4 218.3V214.7H243.4V218.3" stroke="#cc4f5c" stroke-width="0.95" fill="none"/>
<path d="M227.5 215.25h1v1.3h-1ZM225.05 215.25h1v1.3h-1ZM222.6 215.25h1v1.3h-1ZM220.15 215.25h1v1.3h-1Z" fill="#a33444"/>
<path d="M181.5 225.1V221.5H243.4V225.1" stroke="#cc4f5c" stroke-width="0.95" fill="none"/>
<path d="M212.05 222.05h1v1.3h-1ZM209.6 222.05h1v1.3h-1ZM207.15 222.05h1v1.3h-1ZM204.7 222.05h1v1.3h-1Z" fill="#a33444"/>
<path d="M181.5 232V228.4H212.4V232" stroke="#cc4f5c" stroke-width="0.95" fill="none"/>
<path d="M196.55 228.95h1v1.3h-1ZM194.1 228.95h1v1.3h-1Z" fill="#a33444"/>
<text x="173.5" y="197" font-size="11" textLength="43.8" lengthAdjust="spacingAndGlyphs">HAVCR2</text>
<text x="171.2" y="376.5" font-size="9.8" textLength="19.3" lengthAdjust="spacingAndGlyphs" stroke="#000" stroke-width="0.15">High</text>
<text x="201.3" y="376.5" font-size="9.8" textLength="17.3" lengthAdjust="spacingAndGlyphs" stroke="#000" stroke-width="0.15">Low</text>
<text x="229.1" y="376.5" font-size="9.8" textLength="38.2" lengthAdjust="spacingAndGlyphs" stroke="#000" stroke-width="0.15">Negative</text>
<rect x="305.4" y="208" width="92.9" height="152.6" fill="#fff" stroke="#dcdcdc" stroke-width="0.9"/>
<line x1="305.4" y1="354.3" x2="398.3" y2="354.3" stroke="#e2e2e2" stroke-width="0.8"/>
<text x="301.1" y="356.71" font-size="5.92" text-anchor="end" fill="#333333" textLength="3.34" lengthAdjust="spacingAndGlyphs" stroke="#444" stroke-width="0.1">0</text>
<line x1="305.4" y1="329.38" x2="398.3" y2="329.38" stroke="#e2e2e2" stroke-width="0.8"/>
<text x="301.1" y="331.79" font-size="5.92" text-anchor="end" fill="#333333" textLength="7.03" lengthAdjust="spacingAndGlyphs" stroke="#444" stroke-width="0.1">20</text>
<line x1="305.4" y1="304.46" x2="398.3" y2="304.46" stroke="#e2e2e2" stroke-width="0.8"/>
<text x="301.1" y="306.87" font-size="5.92" text-anchor="end" fill="#333333" textLength="7.03" lengthAdjust="spacingAndGlyphs" stroke="#444" stroke-width="0.1">40</text>
<line x1="305.4" y1="279.54" x2="398.3" y2="279.54" stroke="#e2e2e2" stroke-width="0.8"/>
<text x="301.1" y="281.95" font-size="5.92" text-anchor="end" fill="#333333" textLength="7.03" lengthAdjust="spacingAndGlyphs" stroke="#444" stroke-width="0.1">60</text>
<line x1="305.4" y1="254.62" x2="398.3" y2="254.62" stroke="#e2e2e2" stroke-width="0.8"/>
<text x="301.1" y="257.03" font-size="5.92" text-anchor="end" fill="#333333" textLength="7.03" lengthAdjust="spacingAndGlyphs" stroke="#444" stroke-width="0.1">80</text>
<line x1="305.4" y1="229.7" x2="398.3" y2="229.7" stroke="#e2e2e2" stroke-width="0.8"/>
<text x="301.1" y="232.11" font-size="5.92" text-anchor="end" fill="#333333" textLength="10.72" lengthAdjust="spacingAndGlyphs" stroke="#444" stroke-width="0.1">100</text>
<text x="0" y="0" font-size="5.92" fill="#333333" text-anchor="middle" stroke="#444" stroke-width="0.1" transform="translate(285.4 284.5) rotate(-90)" dy="2.11" textLength="15.9" lengthAdjust="spacingAndGlyphs">CD86</text>
<path d="M320.7 308.3V327.3 M320.7 346.3V353.3 M316.7 308.3H324.7 M316.7 353.3H324.7" stroke="#5c5c5c" stroke-width="0.8" fill="none"/>
<rect x="313.05" y="327.3" width="15.3" height="19" fill="#5b80c9" stroke="#3d3d3d" stroke-width="0.85"/>
<line x1="313.05" y1="336.9" x2="328.35" y2="336.9" stroke="#3d3d3d" stroke-width="0.85"/>
<path d="M320.7 237.1L322.65 239.9L320.7 242.7L318.75 239.9ZM320.7 261.4L322.65 264.2L320.7 267L318.75 264.2ZM320.7 281.6L322.65 284.4L320.7 287.2L318.75 284.4ZM320.7 290.2L322.65 293L320.7 295.8L318.75 293Z" fill="#404040"/>
<path d="M351.6 328.8V341 M351.6 349.8V352.5 M347.6 328.8H355.6 M347.6 352.5H355.6" stroke="#5c5c5c" stroke-width="0.8" fill="none"/>
<rect x="343.95" y="341" width="15.3" height="8.8" fill="#e48b5c" stroke="#3d3d3d" stroke-width="0.85"/>
<line x1="343.95" y1="345.1" x2="359.25" y2="345.1" stroke="#3d3d3d" stroke-width="0.85"/>
<path d="M351.6 313.9L353.55 316.7L351.6 319.5L349.65 316.7ZM351.6 320L353.55 322.8L351.6 325.6L349.65 322.8ZM351.6 321.75L353.55 324.55L351.6 327.35L349.65 324.55ZM351.6 323.5L353.55 326.3L351.6 329.1L349.65 326.3Z" fill="#404040"/>
<path d="M382.4 331V343.1 M382.4 351.4V354.2 M378.4 331H386.4 M378.4 354.2H386.4" stroke="#5c5c5c" stroke-width="0.8" fill="none"/>
<rect x="374.75" y="343.1" width="15.3" height="8.3" fill="#6dc768" stroke="#3d3d3d" stroke-width="0.85"/>
<line x1="374.75" y1="348.4" x2="390.05" y2="348.4" stroke="#3d3d3d" stroke-width="0.85"/>
<path d="M382.4 273.7L384.35 276.5L382.4 279.3L380.45 276.5ZM382.4 288.8L384.35 291.6L382.4 294.4L380.45 291.6ZM382.4 292.9L384.35 295.7L382.4 298.5L380.45 295.7ZM382.4 295.62L384.35 298.42L382.4 301.22L380.45 298.42ZM382.4 298.33L384.35 301.13L382.4 303.93L380.45 301.13ZM382.4 301.05L384.35 303.85L382.4 306.65L380.45 303.85ZM382.4 303.77L384.35 306.57L382.4 309.37L380.45 306.57ZM382.4 306.48L384.35 309.28L382.4 312.08L380.45 309.28ZM382.4 309.2L384.35 312L382.4 314.8L380.45 312ZM382.4 309.2L384.35 312L382.4 314.8L380.45 312ZM382.4 310.78L384.35 313.58L382.4 316.38L380.45 313.58ZM382.4 312.37L384.35 315.17L382.4 317.97L380.45 315.17ZM382.4 313.95L384.35 316.75L382.4 319.55L380.45 316.75ZM382.4 315.53L384.35 318.33L382.4 321.13L380.45 318.33ZM382.4 317.12L384.35 319.92L382.4 322.72L380.45 319.92ZM382.4 318.7L384.35 321.5L382.4 324.3L380.45 321.5ZM382.4 320.28L384.35 323.08L382.4 325.88L380.45 323.08ZM382.4 321.87L384.35 324.67L382.4 327.47L380.45 324.67ZM382.4 323.45L384.35 326.25L382.4 329.05L380.45 326.25ZM382.4 325.03L384.35 327.83L382.4 330.63L380.45 327.83ZM382.4 326.62L384.35 329.42L382.4 332.22L380.45 329.42ZM382.4 328.2L384.35 331L382.4 333.8L380.45 331Z" fill="#404040"/>
<path d="M351.6 218.8V215.2H382.4V218.8" stroke="#cc4f5c" stroke-width="0.95" fill="none"/>
<path d="M366.6 215.75h1v1.3h-1ZM364.15 215.75h1v1.3h-1ZM361.7 215.75h1v1.3h-1Z" fill="#a33444"/>
<path d="M320.7 225.5V221.9H382.4V225.5" stroke="#cc4f5c" stroke-width="0.95" fill="none"/>
<path d="M351.15 222.45h1v1.3h-1ZM348.7 222.45h1v1.3h-1ZM346.25 222.45h1v1.3h-1ZM343.8 222.45h1v1.3h-1Z" fill="#a33444"/>
<path d="M320.7 232.2V228.6H351.6V232.2" stroke="#cc4f5c" stroke-width="0.95" fill="none"/>
<path d="M335.75 229.15h1v1.3h-1ZM333.3 229.15h1v1.3h-1Z" fill="#a33444"/>
<text x="318.6" y="195.3" font-size="11" textLength="27" lengthAdjust="spacingAndGlyphs">CD86</text>
<text x="310.8" y="376.9" font-size="9.8" textLength="19.2" lengthAdjust="spacingAndGlyphs" stroke="#000" stroke-width="0.15">High</text>
<text x="340.5" y="376.9" font-size="9.8" textLength="17.3" lengthAdjust="spacingAndGlyphs" stroke="#000" stroke-width="0.15">Low</text>
<text x="368.3" y="376.9" font-size="9.8" textLength="38.2" lengthAdjust="spacingAndGlyphs" stroke="#000" stroke-width="0.15">Negative</text>
<rect x="444.4" y="208" width="93.4" height="152.6" fill="#fff" stroke="#dcdcdc" stroke-width="0.9"/>
<line x1="444.4" y1="354.3" x2="537.8" y2="354.3" stroke="#e2e2e2" stroke-width="0.8"/>
<text x="440.1" y="356.71" font-size="5.92" text-anchor="end" fill="#333333" textLength="3.34" lengthAdjust="spacingAndGlyphs" stroke="#444" stroke-width="0.1">0</text>
<line x1="444.4" y1="336.8" x2="537.8" y2="336.8" stroke="#e2e2e2" stroke-width="0.8"/>
<text x="440.1" y="339.21" font-size="5.92" text-anchor="end" fill="#333333" textLength="3.34" lengthAdjust="spacingAndGlyphs" stroke="#444" stroke-width="0.1">5</text>
<line x1="444.4" y1="319.3" x2="537.8" y2="319.3" stroke="#e2e2e2" stroke-width="0.8"/>
<text x="440.1" y="321.71" font-size="5.92" text-anchor="end" fill="#333333" textLength="7.03" lengthAdjust="spacingAndGlyphs" stroke="#444" stroke-width="0.1">10</text>
<line x1="444.4" y1="301.8" x2="537.8" y2="301.8" stroke="#e2e2e2" stroke-width="0.8"/>
<text x="440.1" y="304.21" font-size="5.92" text-anchor="end" fill="#333333" textLength="7.03" lengthAdjust="spacingAndGlyphs" stroke="#444" stroke-width="0.1">15</text>
<line x1="444.4" y1="284.3" x2="537.8" y2="284.3" stroke="#e2e2e2" stroke-width="0.8"/>
<text x="440.1" y="286.71" font-size="5.92" text-anchor="end" fill="#333333" textLength="7.03" lengthAdjust="spacingAndGlyphs" stroke="#444" stroke-width="0.1">20</text>
<line x1="444.4" y1="266.8" x2="537.8" y2="266.8" stroke="#e2e2e2" stroke-width="0.8"/>
<text x="440.1" y="269.21" font-size="5.92" text-anchor="end" fill="#333333" textLength="7.03" lengthAdjust="spacingAndGlyphs" stroke="#444" stroke-width="0.1">25</text>
<line x1="444.4" y1="249.3" x2="537.8" y2="249.3" stroke="#e2e2e2" stroke-width="0.8"/>
<text x="440.1" y="251.71" font-size="5.92" text-anchor="end" fill="#333333" textLength="7.03" lengthAdjust="spacingAndGlyphs" stroke="#444" stroke-width="0.1">30</text>
<line x1="444.4" y1="231.8" x2="537.8" y2="231.8" stroke="#e2e2e2" stroke-width="0.8"/>
<text x="440.1" y="234.21" font-size="5.92" text-anchor="end" fill="#333333" textLength="7.03" lengthAdjust="spacingAndGlyphs" stroke="#444" stroke-width="0.1">35</text>
<line x1="444.4" y1="214.3" x2="537.8" y2="214.3" stroke="#e2e2e2" stroke-width="0.8"/>
<text x="440.1" y="216.71" font-size="5.92" text-anchor="end" fill="#333333" textLength="7.03" lengthAdjust="spacingAndGlyphs" stroke="#444" stroke-width="0.1">40</text>
<text x="0" y="0" font-size="5.92" fill="#333333" text-anchor="middle" stroke="#444" stroke-width="0.1" transform="translate(427.7 284.5) rotate(-90)" dy="2.11" textLength="20.17" lengthAdjust="spacingAndGlyphs">PDCD1</text>
<path d="M460.2 335.1V345.1 M460.2 352.5V353.9 M456.2 335.1H464.2 M456.2 353.9H464.2" stroke="#5c5c5c" stroke-width="0.8" fill="none"/>
<rect x="452.55" y="345.1" width="15.3" height="7.4" fill="#5b80c9" stroke="#3d3d3d" stroke-width="0.85"/>
<line x1="452.55" y1="348.8" x2="467.85" y2="348.8" stroke="#3d3d3d" stroke-width="0.85"/>
<path d="M460.2 324.5L462.15 327.3L460.2 330.1L458.25 327.3ZM460.2 326.2L462.15 329L460.2 331.8L458.25 329ZM460.2 327.9L462.15 330.7L460.2 333.5L458.25 330.7ZM460.2 329.6L462.15 332.4L460.2 335.2L458.25 332.4Z" fill="#404040"/>
<path d="M491 344.3V348.4 M491 353.5V354 M487 344.3H495 M487 354H495" stroke="#5c5c5c" stroke-width="0.8" fill="none"/>
<rect x="483.35" y="348.4" width="15.3" height="5.1" fill="#e48b5c" stroke="#3d3d3d" stroke-width="0.85"/>
<line x1="483.35" y1="351.5" x2="498.65" y2="351.5" stroke="#3d3d3d" stroke-width="0.85"/>
<path d="M491 276.7L492.95 279.5L491 282.3L489.05 279.5ZM491 285.7L492.95 288.5L491 291.3L489.05 288.5ZM491 299.4L492.95 302.2L491 305L489.05 302.2ZM491 327.6L492.95 330.4L491 333.2L489.05 330.4ZM491 330.4L492.95 333.2L491 336L489.05 333.2ZM491 333.2L492.95 336L491 338.8L489.05 336ZM491 336L492.95 338.8L491 341.6L489.05 338.8ZM491 338.8L492.95 341.6L491 344.4L489.05 341.6Z" fill="#404040"/>
<path d="M521.9 348.4V351.4 M521.9 353.9V354.3 M517.9 348.4H525.9 M517.9 354.3H525.9" stroke="#5c5c5c" stroke-width="0.8" fill="none"/>
<rect x="514.25" y="351.4" width="15.3" height="2.5" fill="#6dc768" stroke="#3d3d3d" stroke-width="0.85"/>
<line x1="514.25" y1="352.8" x2="529.55" y2="352.8" stroke="#3d3d3d" stroke-width="0.85"/>
<path d="M521.9 237.1L523.85 239.9L521.9 242.7L519.95 239.9ZM521.9 293.9L523.85 296.7L521.9 299.5L519.95 296.7ZM521.9 300.4L523.85 303.2L521.9 306L519.95 303.2ZM521.9 306.1L523.85 308.9L521.9 311.7L519.95 308.9ZM521.9 316.4L523.85 319.2L521.9 322L519.95 319.2ZM521.9 318.96L523.85 321.76L521.9 324.56L519.95 321.76ZM521.9 321.52L523.85 324.32L521.9 327.12L519.95 324.32ZM521.9 324.08L523.85 326.88L521.9 329.68L519.95 326.88ZM521.9 326.64L523.85 329.44L521.9 332.24L519.95 329.44ZM521.9 329.2L523.85 332L521.9 334.8L519.95 332ZM521.9 329.2L523.85 332L521.9 334.8L519.95 332ZM521.9 330.69L523.85 333.49L521.9 336.29L519.95 333.49ZM521.9 332.18L523.85 334.98L521.9 337.78L519.95 334.98ZM521.9 333.67L523.85 336.47L521.9 339.27L519.95 336.47ZM521.9 335.16L523.85 337.96L521.9 340.76L519.95 337.96ZM521.9 336.65L523.85 339.45L521.9 342.25L519.95 339.45ZM521.9 338.15L523.85 340.95L521.9 343.75L519.95 340.95ZM521.9 339.64L523.85 342.44L521.9 345.24L519.95 342.44ZM521.9 341.13L523.85 343.93L521.9 346.73L519.95 343.93ZM521.9 342.62L523.85 345.42L521.9 348.22L519.95 345.42ZM521.9 344.11L523.85 346.91L521.9 349.71L519.95 346.91ZM521.9 345.6L523.85 348.4L521.9 351.2L519.95 348.4Z" fill="#404040"/>
<path d="M491 218.8V215.2H521.9V218.8" stroke="#cc4f5c" stroke-width="0.95" fill="none"/>
<path d="M506.05 215.75h1v1.3h-1ZM503.6 215.75h1v1.3h-1ZM501.15 215.75h1v1.3h-1ZM498.7 215.75h1v1.3h-1Z" fill="#a33444"/>
<path d="M460.2 225.5V221.9H521.9V225.5" stroke="#cc4f5c" stroke-width="0.95" fill="none"/>
<path d="M490.65 222.45h1v1.3h-1ZM488.2 222.45h1v1.3h-1ZM485.75 222.45h1v1.3h-1ZM483.3 222.45h1v1.3h-1Z" fill="#a33444"/>
<path d="M460.2 232.2V228.6H491V232.2" stroke="#cc4f5c" stroke-width="0.95" fill="none"/>
<path d="M475.2 229.15h1v1.3h-1Z" fill="#a33444"/>
<text x="455.5" y="193.3" font-size="11" textLength="36.4" lengthAdjust="spacingAndGlyphs">PDCD1</text>
<text x="449.2" y="378.4" font-size="9.8" textLength="19.2" lengthAdjust="spacingAndGlyphs" stroke="#000" stroke-width="0.15">High</text>
<text x="478.9" y="378.4" font-size="9.8" textLength="17.3" lengthAdjust="spacingAndGlyphs" stroke="#000" stroke-width="0.15">Low</text>
<text x="506.6" y="378.4" font-size="9.8" textLength="38.6" lengthAdjust="spacingAndGlyphs" stroke="#000" stroke-width="0.15">Negative</text>
<rect x="583.8" y="208" width="93" height="152.6" fill="#fff" stroke="#dcdcdc" stroke-width="0.9"/>
<line x1="583.8" y1="354.3" x2="676.8" y2="354.3" stroke="#e2e2e2" stroke-width="0.8"/>
<text x="579.5" y="356.71" font-size="5.92" text-anchor="end" fill="#333333" textLength="3.34" lengthAdjust="spacingAndGlyphs" stroke="#444" stroke-width="0.1">0</text>
<line x1="583.8" y1="321" x2="676.8" y2="321" stroke="#e2e2e2" stroke-width="0.8"/>
<text x="579.5" y="323.41" font-size="5.92" text-anchor="end" fill="#333333" textLength="7.03" lengthAdjust="spacingAndGlyphs" stroke="#444" stroke-width="0.1">10</text>
<line x1="583.8" y1="287.7" x2="676.8" y2="287.7" stroke="#e2e2e2" stroke-width="0.8"/>
<text x="579.5" y="290.11" font-size="5.92" text-anchor="end" fill="#333333" textLength="7.03" lengthAdjust="spacingAndGlyphs" stroke="#444" stroke-width="0.1">20</text>
<line x1="583.8" y1="254.4" x2="676.8" y2="254.4" stroke="#e2e2e2" stroke-width="0.8"/>
<text x="579.5" y="256.81" font-size="5.92" text-anchor="end" fill="#333333" textLength="7.03" lengthAdjust="spacingAndGlyphs" stroke="#444" stroke-width="0.1">30</text>
<line x1="583.8" y1="221.1" x2="676.8" y2="221.1" stroke="#e2e2e2" stroke-width="0.8"/>
<text x="579.5" y="223.51" font-size="5.92" text-anchor="end" fill="#333333" textLength="7.03" lengthAdjust="spacingAndGlyphs" stroke="#444" stroke-width="0.1">40</text>
<text x="0" y="0" font-size="5.92" fill="#333333" text-anchor="middle" stroke="#444" stroke-width="0.1" transform="translate(567.5 284.4) rotate(-90)" dy="2.11" textLength="15.41" lengthAdjust="spacingAndGlyphs">LAG3</text>
<path d="M599.4 312V334.9 M599.4 350.4V353.5 M595.4 312H603.4 M595.4 353.5H603.4" stroke="#5c5c5c" stroke-width="0.8" fill="none"/>
<rect x="591.75" y="334.9" width="15.3" height="15.5" fill="#5b80c9" stroke="#3d3d3d" stroke-width="0.85"/>
<line x1="591.75" y1="346.1" x2="607.05" y2="346.1" stroke="#3d3d3d" stroke-width="0.85"/>
<path d="M599.4 237.1L601.35 239.9L599.4 242.7L597.45 239.9ZM599.4 260.6L601.35 263.4L599.4 266.2L597.45 263.4ZM599.4 305.7L601.35 308.5L599.4 311.3L597.45 308.5Z" fill="#404040"/>
<path d="M630.4 340.2V347.4 M630.4 352.5V354 M626.4 340.2H634.4 M626.4 354H634.4" stroke="#5c5c5c" stroke-width="0.8" fill="none"/>
<rect x="622.75" y="347.4" width="15.3" height="5.1" fill="#e48b5c" stroke="#3d3d3d" stroke-width="0.85"/>
<line x1="622.75" y1="351.2" x2="638.05" y2="351.2" stroke="#3d3d3d" stroke-width="0.85"/>
<path d="M630.4 284.1L632.35 286.9L630.4 289.7L628.45 286.9ZM630.4 313.3L632.35 316.1L630.4 318.9L628.45 316.1ZM630.4 329.6L632.35 332.4L630.4 335.2L628.45 332.4ZM630.4 331.4L632.35 334.2L630.4 337L628.45 334.2ZM630.4 333.2L632.35 336L630.4 338.8L628.45 336ZM630.4 335L632.35 337.8L630.4 340.6L628.45 337.8ZM630.4 336.8L632.35 339.6L630.4 342.4L628.45 339.6Z" fill="#404040"/>
<path d="M661.5 347.4V350.8 M661.5 353.3V354.3 M657.5 347.4H665.5 M657.5 354.3H665.5" stroke="#5c5c5c" stroke-width="0.8" fill="none"/>
<rect x="653.85" y="350.8" width="15.3" height="2.5" fill="#6dc768" stroke="#3d3d3d" stroke-width="0.85"/>
<line x1="653.85" y1="352.4" x2="669.15" y2="352.4" stroke="#3d3d3d" stroke-width="0.85"/>
<path d="M661.5 249.8L663.45 252.6L661.5 255.4L659.55 252.6ZM661.5 251.8L663.45 254.6L661.5 257.4L659.55 254.6ZM661.5 253.8L663.45 256.6L661.5 259.4L659.55 256.6ZM661.5 290.2L663.45 293L661.5 295.8L659.55 293ZM661.5 313.3L663.45 316.1L661.5 318.9L659.55 316.1ZM661.5 321.5L663.45 324.3L661.5 327.1L659.55 324.3ZM661.5 324.18L663.45 326.98L661.5 329.78L659.55 326.98ZM661.5 326.85L663.45 329.65L661.5 332.45L659.55 329.65ZM661.5 329.52L663.45 332.32L661.5 335.12L659.55 332.32ZM661.5 332.2L663.45 335L661.5 337.8L659.55 335ZM661.5 332.2L663.45 335L661.5 337.8L659.55 335ZM661.5 333.75L663.45 336.55L661.5 339.35L659.55 336.55ZM661.5 335.3L663.45 338.1L661.5 340.9L659.55 338.1ZM661.5 336.85L663.45 339.65L661.5 342.45L659.55 339.65ZM661.5 338.4L663.45 341.2L661.5 344L659.55 341.2ZM661.5 339.95L663.45 342.75L661.5 345.55L659.55 342.75ZM661.5 341.5L663.45 344.3L661.5 347.1L659.55 344.3ZM661.5 343.05L663.45 345.85L661.5 348.65L659.55 345.85ZM661.5 344.6L663.45 347.4L661.5 350.2L659.55 347.4Z" fill="#404040"/>
<path d="M630.4 218.8V215.2H661.5V218.8" stroke="#cc4f5c" stroke-width="0.95" fill="none"/>
<path d="M645.55 215.75h1v1.3h-1ZM643.1 215.75h1v1.3h-1Z" fill="#a33444"/>
<path d="M599.4 225.5V221.9H661.5V225.5" stroke="#cc4f5c" stroke-width="0.95" fill="none"/>
<path d="M630.05 222.45h1v1.3h-1ZM627.6 222.45h1v1.3h-1ZM625.15 222.45h1v1.3h-1ZM622.7 222.45h1v1.3h-1Z" fill="#a33444"/>
<path d="M599.4 232.2V228.6H630.4V232.2" stroke="#cc4f5c" stroke-width="0.95" fill="none"/>
<path d="M614.5 229.15h1v1.3h-1ZM612.05 229.15h1v1.3h-1ZM609.6 229.15h1v1.3h-1ZM607.15 229.15h1v1.3h-1Z" fill="#a33444"/>
<text x="596.1" y="192.7" font-size="11" textLength="27.6" lengthAdjust="spacingAndGlyphs">LAG3</text>
<text x="587.8" y="375.3" font-size="9.8" textLength="19.3" lengthAdjust="spacingAndGlyphs" stroke="#000" stroke-width="0.15">High</text>
<text x="617.6" y="375.3" font-size="9.8" textLength="17.3" lengthAdjust="spacingAndGlyphs" stroke="#000" stroke-width="0.15">Low</text>
<text x="644.9" y="375.3" font-size="9.8" textLength="38" lengthAdjust="spacingAndGlyphs" stroke="#000" stroke-width="0.15">Negative</text>
<text x="6.6" y="14.9" font-size="14" font-weight="bold" textLength="13.5" lengthAdjust="spacingAndGlyphs">A.</text>
<text x="6.9" y="419.6" font-size="12.6" font-weight="bold" textLength="13" lengthAdjust="spacingAndGlyphs">B.</text>
<rect x="159.5" y="451.3" width="49" height="135.9" fill="#f6f8fc"/>
<rect x="290.5" y="451.3" width="335" height="135.9" fill="#deebf6"/>
<path d="M100.5 410.5V587.2M290.5 410.5V587.2M159.5 424.5V587.2M208.5 424.5V587.2M381.5 424.5V587.2M504.5 424.5V587.2" stroke="#4a4a4a" stroke-width="1.15" fill="none"/>
<path d="M36.5 410.5H625.5V587.2H36.5ZM100.5 424.5H625.5M36.5 451.3H625.5M36.5 464.89H625.5M36.5 478.48H625.5M36.5 492.07H625.5M36.5 505.66H625.5M36.5 519.25H625.5M36.5 532.84H625.5M36.5 546.43H625.5M36.5 560.02H625.5M36.5 573.61H625.5" stroke="#2a2a2a" stroke-width="1" fill="none"/>
<text x="195.5" y="421.9" font-size="10.9" text-anchor="middle" font-weight="bold">Median Value</text>
<text x="458" y="421.9" font-size="10.9" text-anchor="middle" font-weight="bold">Pairwise q-value</text>
<text x="130" y="436.2" font-size="10.9" text-anchor="middle" font-weight="bold">PD-L1</text>
<text x="130" y="448.8" font-size="10.9" text-anchor="middle" font-weight="bold">High</text>
<text x="184" y="436.2" font-size="10.9" text-anchor="middle" font-weight="bold">PD-L1</text>
<text x="184" y="448.8" font-size="10.9" text-anchor="middle" font-weight="bold">Low</text>
<text x="249.5" y="436.2" font-size="10.9" text-anchor="middle" font-weight="bold">PD-L1</text>
<text x="249.5" y="448.8" font-size="10.9" text-anchor="middle" font-weight="bold">Negative (0)</text>
<text x="336" y="436.2" font-size="10.9" text-anchor="middle" font-weight="bold">PD L-1 High vs</text>
<text x="336" y="448.8" font-size="10.9" text-anchor="middle" font-weight="bold">Low</text>
<text x="443" y="436.2" font-size="10.9" text-anchor="middle" font-weight="bold">PD-L1 High vs</text>
<text x="443" y="448.8" font-size="10.9" text-anchor="middle" font-weight="bold">Negative (0)</text>
<text x="565" y="436.2" font-size="10.9" text-anchor="middle" font-weight="bold">PD-L1 Low vs</text>
<text x="565" y="448.8" font-size="10.9" text-anchor="middle" font-weight="bold">Negative (0)</text>
<text x="68.5" y="462.5" font-size="11.1" text-anchor="middle" font-weight="bold">CD80</text>
<text x="130" y="462.5" font-size="11" text-anchor="middle">5.75</text>
<text x="184" y="462.5" font-size="11" text-anchor="middle">2.72</text>
<text x="249.5" y="462.5" font-size="11" text-anchor="middle">2.06</text>
<text x="336" y="462.5" font-size="11" text-anchor="middle" font-style="italic">0.004*</text>
<text x="443" y="462.5" font-size="11" text-anchor="middle" font-style="italic">1.62E-07***</text>
<text x="565" y="462.5" font-size="11" text-anchor="middle" font-style="italic">0.0008*</text>
<text x="68.5" y="476.08" font-size="11.1" text-anchor="middle" font-weight="bold">HAVCR2</text>
<text x="130" y="476.08" font-size="11" text-anchor="middle">28.46</text>
<text x="184" y="476.08" font-size="11" text-anchor="middle">14.96</text>
<text x="249.5" y="476.08" font-size="11" text-anchor="middle">9.19</text>
<text x="336" y="476.08" font-size="11" text-anchor="middle" font-style="italic">0.001*</text>
<text x="443" y="476.08" font-size="11" text-anchor="middle" font-style="italic">6.57E-08***</text>
<text x="565" y="476.08" font-size="11" text-anchor="middle" font-style="italic">0.0001*</text>
<text x="68.5" y="489.68" font-size="11.1" text-anchor="middle" font-weight="bold">PDCD1</text>
<text x="130" y="489.68" font-size="11" text-anchor="middle">1.26</text>
<text x="184" y="489.68" font-size="11" text-anchor="middle">0.46</text>
<text x="249.5" y="489.68" font-size="11" text-anchor="middle">0.22</text>
<text x="336" y="489.68" font-size="11" text-anchor="middle" font-style="italic">0.01*</text>
<text x="443" y="489.68" font-size="11" text-anchor="middle" font-style="italic">1.76E-07***</text>
<text x="565" y="489.68" font-size="11" text-anchor="middle" font-style="italic">0.0001*</text>
<text x="68.5" y="503.26" font-size="11.1" text-anchor="middle" font-weight="bold">IFNG</text>
<text x="130" y="503.26" font-size="11" text-anchor="middle">2.75</text>
<text x="184" y="503.26" font-size="11" text-anchor="middle">0.40</text>
<text x="249.5" y="503.26" font-size="11" text-anchor="middle">0.20</text>
<text x="336" y="503.26" font-size="11" text-anchor="middle" font-style="italic">3.62E-05***</text>
<text x="443" y="503.26" font-size="11" text-anchor="middle" font-style="italic">6.69E-12***</text>
<text x="565" y="503.26" font-size="11" text-anchor="middle" font-style="italic">0.001*</text>
<text x="68.5" y="516.86" font-size="11.1" text-anchor="middle" font-weight="bold">CTLA4</text>
<text x="130" y="516.86" font-size="11" text-anchor="middle">2.95</text>
<text x="184" y="516.86" font-size="11" text-anchor="middle">1.24</text>
<text x="249.5" y="516.86" font-size="11" text-anchor="middle">0.52</text>
<text x="336" y="516.86" font-size="11" text-anchor="middle" font-style="italic">0.005*</text>
<text x="443" y="516.86" font-size="11" text-anchor="middle" font-style="italic">2.67E-08***</text>
<text x="565" y="516.86" font-size="11" text-anchor="middle" font-style="italic">4.13E-05***</text>
<text x="68.5" y="530.44" font-size="11.1" text-anchor="middle" font-weight="bold">IDO1</text>
<text x="130" y="530.44" font-size="11" text-anchor="middle">4.17</text>
<text x="184" y="530.44" font-size="11" text-anchor="middle">1.26</text>
<text x="249.5" y="530.44" font-size="11" text-anchor="middle">0.64</text>
<text x="336" y="530.44" font-size="11" text-anchor="middle" font-style="italic">0.0005*</text>
<text x="443" y="530.44" font-size="11" text-anchor="middle" font-style="italic">2.70E-09***</text>
<text x="565" y="530.44" font-size="11" text-anchor="middle" font-style="italic">0.0001*</text>
<text x="68.5" y="544.03" font-size="11.1" text-anchor="middle" font-weight="bold">CD274†</text>
<text x="130" y="544.03" font-size="11" text-anchor="middle">9.74</text>
<text x="184" y="544.03" font-size="11" text-anchor="middle">2.79</text>
<text x="249.5" y="544.03" font-size="11" text-anchor="middle">1.99</text>
<text x="336" y="544.03" font-size="11" text-anchor="middle" font-style="italic">1.87E-07***</text>
<text x="443" y="544.03" font-size="11" text-anchor="middle" font-style="italic">2.32E-14***</text>
<text x="565" y="544.03" font-size="11" text-anchor="middle" font-style="italic">0.0006*</text>
<text x="68.5" y="557.62" font-size="11.1" text-anchor="middle" font-weight="bold">CD86</text>
<text x="130" y="557.62" font-size="11" text-anchor="middle">13.80</text>
<text x="184" y="557.62" font-size="11" text-anchor="middle">6.87</text>
<text x="249.5" y="557.62" font-size="11" text-anchor="middle">4.35</text>
<text x="336" y="557.62" font-size="11" text-anchor="middle" font-style="italic">0.002*</text>
<text x="443" y="557.62" font-size="11" text-anchor="middle" font-style="italic">2.32E-07***</text>
<text x="565" y="557.62" font-size="11" text-anchor="middle" font-style="italic">0.0002*</text>
<text x="68.5" y="571.21" font-size="11.1" text-anchor="middle" font-weight="bold">LAG3</text>
<text x="130" y="571.21" font-size="11" text-anchor="middle">2.39</text>
<text x="184" y="571.21" font-size="11" text-anchor="middle">0.80</text>
<text x="249.5" y="571.21" font-size="11" text-anchor="middle">0.50</text>
<text x="336" y="571.21" font-size="11" text-anchor="middle" font-style="italic">0.0001*</text>
<text x="443" y="571.21" font-size="11" text-anchor="middle" font-style="italic">9.71E-10***</text>
<text x="565" y="571.21" font-size="11" text-anchor="middle" font-style="italic">0.001*</text>
<text x="68.5" y="584.8" font-size="11.1" text-anchor="middle" font-weight="bold">PDCD1LG2</text>
<text x="130" y="584.8" font-size="11" text-anchor="middle">2.61</text>
<text x="184" y="584.8" font-size="11" text-anchor="middle">0.77</text>
<text x="249.5" y="584.8" font-size="11" text-anchor="middle">0.57</text>
<text x="336" y="584.8" font-size="11" text-anchor="middle" font-style="italic">1.80E-05***</text>
<text x="443" y="584.8" font-size="11" text-anchor="middle" font-style="italic">2.01E-10***</text>
<text x="565" y="584.8" font-size="11" text-anchor="middle" font-style="italic">0.001*</text>
</svg>
</body></html>
